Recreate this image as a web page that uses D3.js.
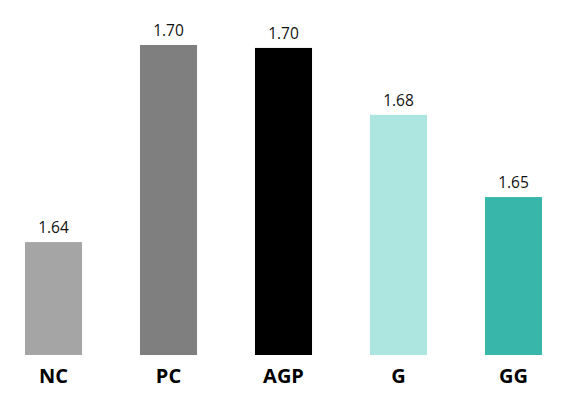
<!DOCTYPE html>
<html><head><meta charset="utf-8">
<script src="https://cdn.jsdelivr.net/npm/d3@7"></script>
<style>body{margin:0;background:#fff}svg{display:block}</style>
</head><body>
<svg id="c" width="572" height="400"></svg>
<script>
const categories = ["NC", "PC", "AGP", "G", "GG"];
const values = [1.6396, 1.7000, 1.6991, 1.6786, 1.6534];
const labels = ["1.64", "1.70", "1.70", "1.68", "1.65"];
const colors = ["#a5a5a5", "#7f7f7f", "#000000", "#ade6e0", "#38b6aa"];

const svg = d3.select("#c");
const x = d3.scaleBand().domain(categories).range([-3.75, 570.75]).paddingInner(0.504).paddingOuter(0.25);
const y = d3.scaleLinear().domain([1.605, 1.70]).range([355, 45]);

svg.selectAll("rect.bar").data(categories).join("rect")
  .attr("class","bar")
  .attr("x", d => x(d))
  .attr("width", x.bandwidth())
  .attr("y", (d,i) => y(values[i]))
  .attr("height", (d,i) => y.range()[0] - y(values[i]))
  .attr("fill", (d,i) => colors[i]);

svg.selectAll("text.val").data(categories).join("text")
  .attr("class","val")
  .attr("x", d => x(d) + x.bandwidth()/2)
  .attr("y", (d,i) => y(values[i]) - 9)
  .attr("text-anchor","middle")
  .attr("font-family","'Open Sans', sans-serif")
  .attr("font-size", 15.5)
  .attr("fill","#111")
  .text((d,i) => labels[i]);

const axis = d3.axisBottom(x).tickSize(0).tickPadding(0);
const g = svg.append("g").attr("transform","translate(0,355)").call(axis);
g.select(".domain").remove();
g.selectAll("text")
  .attr("dy", null)
  .attr("y", 28)
  .attr("font-family","'Open Sans', sans-serif")
  .attr("font-size", 20)
  .attr("font-weight","bold")
  .attr("fill","#000");
</script>
</body></html>
